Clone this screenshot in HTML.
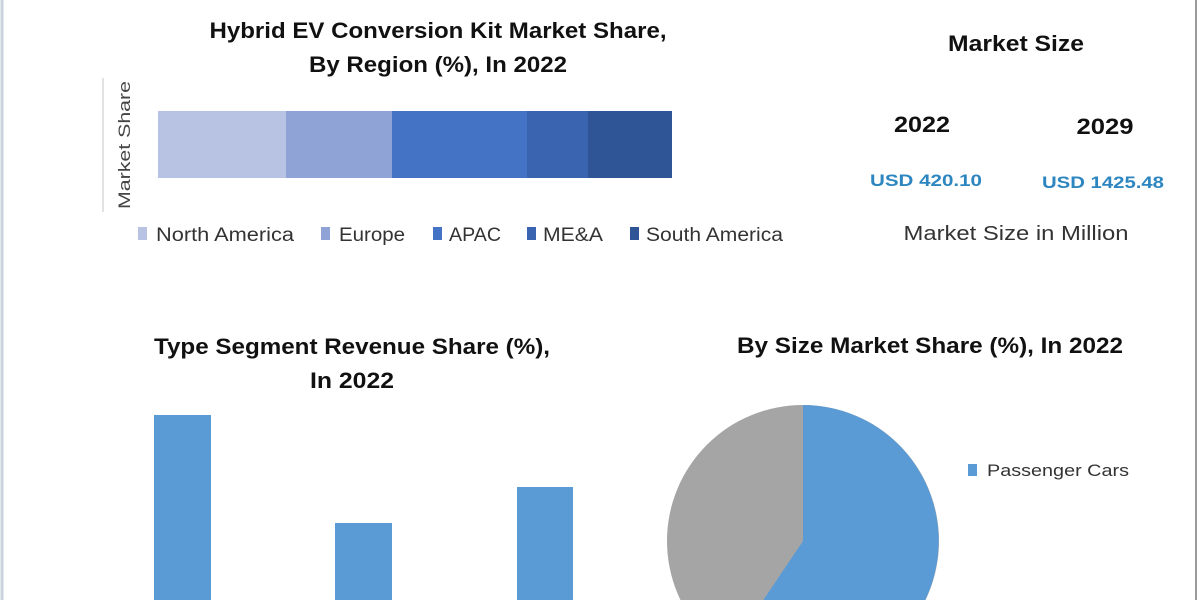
<!DOCTYPE html>
<html><head><meta charset="utf-8"><style>
html,body{margin:0;padding:0;background:#fff;width:1200px;height:600px;overflow:hidden}
svg{display:block;overflow:hidden}
text{font-family:"Liberation Sans",sans-serif}
</style></head><body>
<svg width="1200" height="600" viewBox="0 0 1200 600" xmlns="http://www.w3.org/2000/svg">
<rect width="1200" height="600" fill="#fff"/>
<line x1="2" y1="0" x2="2" y2="600" stroke="#c9d3de" stroke-width="3"/>
<line x1="1196" y1="0" x2="1196" y2="600" stroke="#9a9a9a" stroke-width="2"/>
<g font-weight="bold" fill="#111" font-size="22" text-anchor="middle">
<text x="438" y="38" textLength="457" lengthAdjust="spacingAndGlyphs">Hybrid EV Conversion Kit Market Share,</text>
<text x="438" y="72" textLength="258" lengthAdjust="spacingAndGlyphs">By Region (%), In 2022</text>
<text x="1016" y="51" textLength="136" lengthAdjust="spacingAndGlyphs">Market Size</text>
<text x="922" y="132" textLength="56" lengthAdjust="spacingAndGlyphs">2022</text>
<text x="1105" y="134" textLength="57" lengthAdjust="spacingAndGlyphs">2029</text>
<text x="352" y="354" textLength="396" lengthAdjust="spacingAndGlyphs">Type Segment Revenue Share (%),</text>
<text x="352" y="388" textLength="84" lengthAdjust="spacingAndGlyphs">In 2022</text>
<text x="930" y="353" textLength="386" lengthAdjust="spacingAndGlyphs">By Size Market Share (%), In 2022</text>
</g>
<g font-weight="bold" fill="#2e86c1" font-size="17" text-anchor="middle">
<text x="926" y="186" textLength="112" lengthAdjust="spacingAndGlyphs">USD 420.10</text>
<text x="1103" y="188" textLength="122" lengthAdjust="spacingAndGlyphs">USD 1425.48</text>
</g>
<text x="1016" y="240" font-size="20" fill="#333" text-anchor="middle" textLength="225" lengthAdjust="spacingAndGlyphs">Market Size in Million</text>
<line x1="103" y1="78" x2="103" y2="212" stroke="#e2e2e2" stroke-width="2"/>
<text transform="translate(130,145) rotate(-90)" font-size="17" fill="#444" text-anchor="middle" textLength="128" lengthAdjust="spacingAndGlyphs">Market Share</text>
<rect x="158" y="111" width="128" height="67" fill="#b8c3e3"/>
<rect x="286" y="111" width="106" height="67" fill="#8fa3d6"/>
<rect x="392" y="111" width="135" height="67" fill="#4472c4"/>
<rect x="527" y="111" width="61" height="67" fill="#3a64b0"/>
<rect x="588" y="111" width="84" height="67" fill="#2f5597"/>
<g font-size="19" fill="#333">
<rect x="138" y="227" width="9" height="13" fill="#b8c3e3"/><text x="156" y="241" textLength="138" lengthAdjust="spacingAndGlyphs">North America</text>
<rect x="321" y="227" width="9" height="13" fill="#8fa3d6"/><text x="339" y="241" textLength="66" lengthAdjust="spacingAndGlyphs">Europe</text>
<rect x="433" y="227" width="9" height="13" fill="#4472c4"/><text x="449" y="241" textLength="52" lengthAdjust="spacingAndGlyphs">APAC</text>
<rect x="527" y="227" width="9" height="13" fill="#3a64b0"/><text x="543" y="241" textLength="60" lengthAdjust="spacingAndGlyphs">ME&amp;A</text>
<rect x="630" y="227" width="9" height="13" fill="#2f5597"/><text x="646" y="241" textLength="137" lengthAdjust="spacingAndGlyphs">South America</text>
</g>
<rect x="154" y="415" width="57" height="185" fill="#5b9bd5"/>
<rect x="335" y="523" width="57" height="77" fill="#5b9bd5"/>
<rect x="517" y="487" width="56" height="113" fill="#5b9bd5"/>
<circle cx="803" cy="541" r="136" fill="#a5a5a5"/>
<path d="M803,541 L803,405 A136,136 0 1 1 727,654 Z" fill="#5b9bd5"/>
<rect x="968" y="464" width="9" height="12" fill="#5b9bd5"/>
<text x="987" y="476" font-size="17" fill="#333" textLength="142" lengthAdjust="spacingAndGlyphs">Passenger Cars</text>
</svg>
</body></html>
